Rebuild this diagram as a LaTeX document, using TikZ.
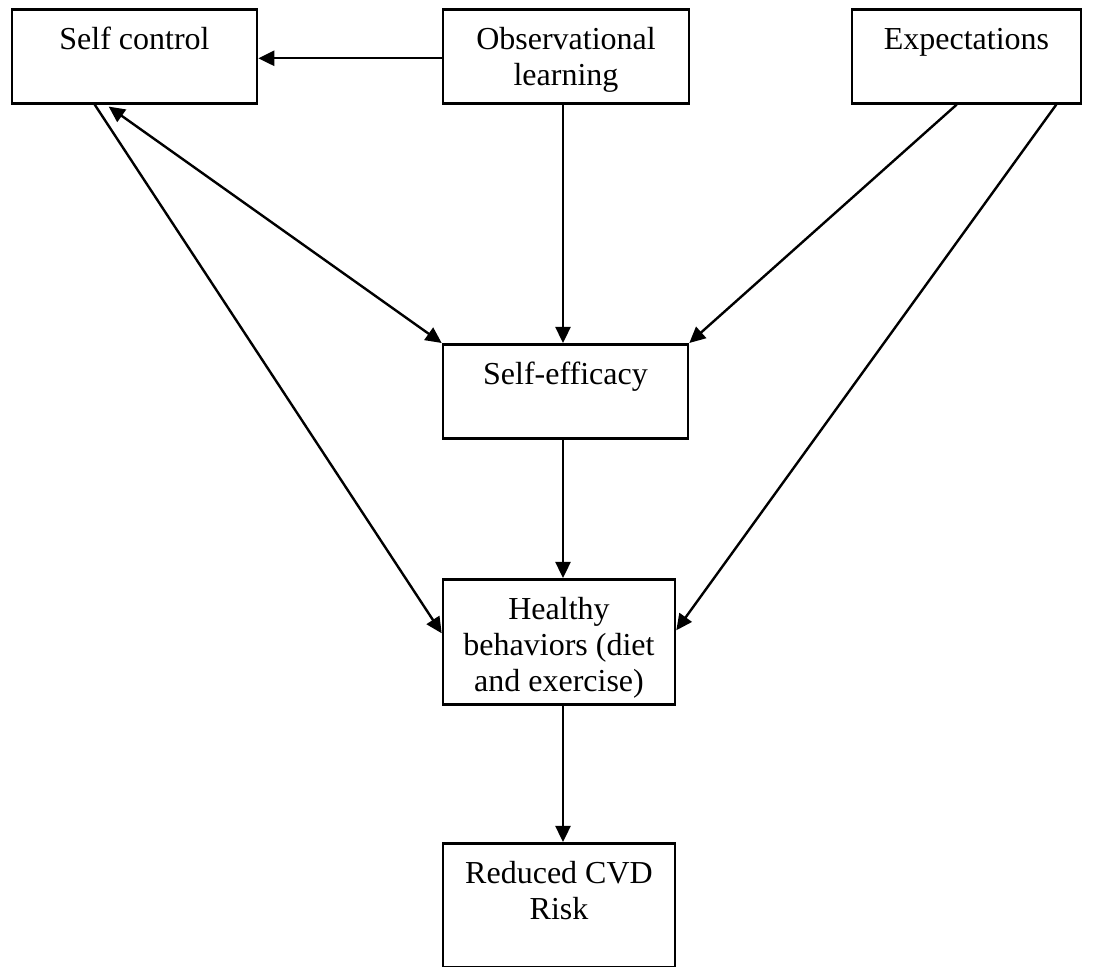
\documentclass[tikz,border=0pt]{standalone}
\usepackage{fontspec}
\setmainfont{Liberation Serif}
\usepackage{tikz}
\usetikzlibrary{arrows.meta}

\tikzset{
    box/.style={draw, line width=1.3pt, rectangle, anchor=north, align=center,
        inner xsep=2pt, inner ysep=0pt},
    link/.style={->, line width=1.2pt},
}

\begin{document}
\begin{tikzpicture}[x=0.5pt, y=-0.5pt, >={Triangle[length=8pt,width=7.5pt]},
        font=\fontsize{16}{18}\selectfont]
        \useasboundingbox (0,0) rectangle (1093,967);
        \node[box, minimum width=122.5pt, text height=20pt, text depth=27pt] (sc) at (134.5,8) {Self control};
        \node[box, minimum width=123pt, text height=38pt, text depth=9pt] (ob) at (566,8) {Observational\\learning};
        \node[box, minimum width=114.5pt, text height=20pt, text depth=27pt] (ex) at (966.5,8) {Expectations};
        \node[box, minimum width=122.5pt, text height=20pt, text depth=27pt] (eff) at (565.5,343) {Self-efficacy};
        \node[box, minimum width=116pt, text height=56pt, text depth=6.5pt] (hb) at (559,578) {Healthy\\behaviors (diet\\and exercise)};
        \node[box, minimum width=116pt, text height=38pt, text depth=24pt] (rd) at (559,842) {Reduced CVD\\Risk};
        \draw[link] ([yshift=-1pt]ob.west) -- ([yshift=-1pt]sc.east);
        \draw[link] ([xshift=-1.5pt]ob.south) -- ([xshift=-1.25pt]eff.north);
        \draw[link] ([xshift=-1.25pt]eff.south) -- ([xshift=2pt]hb.north);
        \draw[link] ([xshift=2pt]hb.south) -- ([xshift=2pt]rd.north);
        \draw[link, <->] ([xshift=49pt, yshift=-1pt]sc.south west) -- (eff.north west);
        \draw[link] ([xshift=42pt]sc.south west) -- ([yshift=4.25pt]hb.west);
        \draw[link] ([xshift=53pt]ex.south west) -- (eff.north east);
        \draw[link] ([xshift=-13pt]ex.south east) -- ([yshift=5.75pt]hb.east);
    \end{tikzpicture}
\end{document}
